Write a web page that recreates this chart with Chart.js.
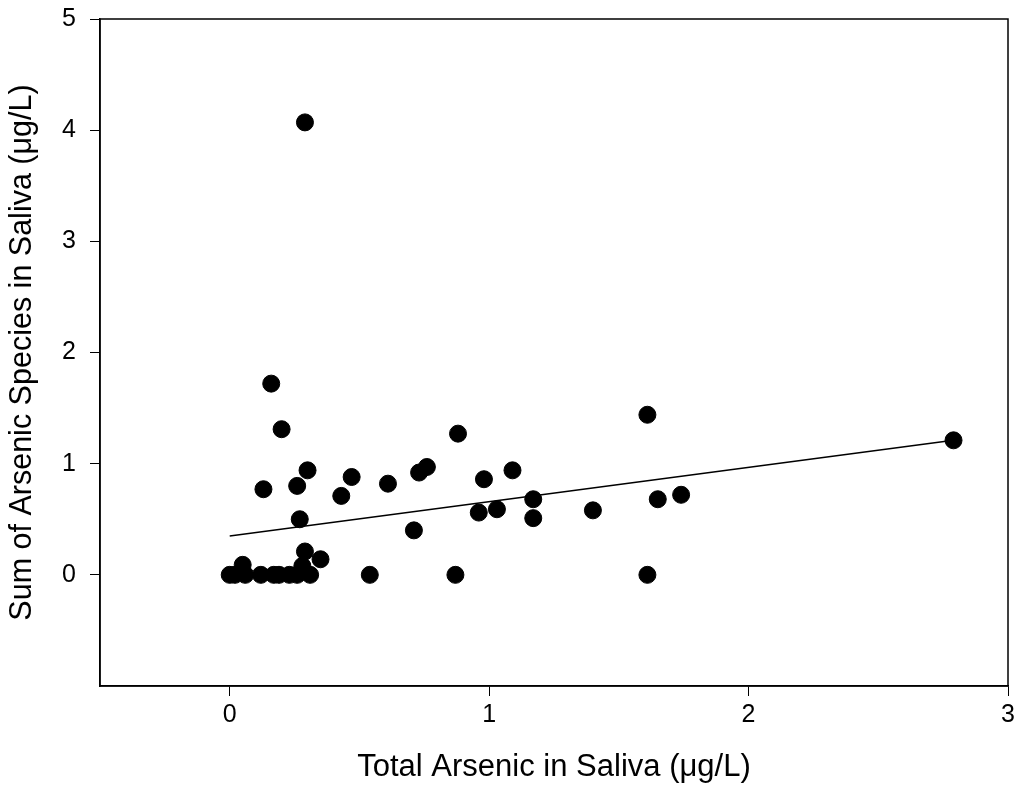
<!DOCTYPE html>
<html>
<head>
<meta charset="utf-8">
<script src="https://cdn.jsdelivr.net/npm/chart.js@4.4.1/dist/chart.umd.min.js"></script>
<style>
html,body{margin:0;padding:0;background:#fff;}
#wrap{width:1020px;height:791px;}
</style>
</head>
<body>
<div id="wrap"><canvas id="c" width="1020" height="791"></canvas></div>
<script>
// Data
const totalAs = [0.00,0.02,0.06,0.12,0.17,0.19,0.23,0.26,0.31,0.05,0.28,0.29,0.35,
  0.16,0.20,0.30,0.13,0.26,0.47,0.43,0.61,0.27,0.29,0.54,
  0.88,0.73,0.76,0.98,1.09,0.71,0.96,1.03,1.17,1.17,1.40,0.87,
  1.61,1.65,1.74,1.61,2.79];
const sumSpecies = [0,0,0,0,0,0,0,0,0,0.09,0.08,0.21,0.14,
  1.72,1.31,0.94,0.77,0.80,0.88,0.71,0.82,0.50,4.07,0,
  1.27,0.92,0.97,0.86,0.94,0.40,0.56,0.59,0.68,0.51,0.58,0,
  1.44,0.68,0.72,0,1.21];
const fitX = [0.00, 2.79];
const fitY = [0.35, 1.21];
const xTicks = [0,1,2,3];
const yTicks = [0,1,2,3,4,5];

const points = totalAs.map((x,i)=>({x:x,y:sumSpecies[i]}));
const fit = fitX.map((x,i)=>({x:x,y:fitY[i]}));

const boxPlugin = {
  id:'box',
  afterDatasetsDraw(chart){
    const {ctx, chartArea:a} = chart;
    ctx.save();
    ctx.strokeStyle='#000';
    ctx.lineWidth=1.5;
    ctx.strokeRect(a.left, a.top, a.right-a.left, a.bottom-a.top);
    ctx.restore();
  }
};

const FONT = 'Liberation Sans, Arial, sans-serif';

new Chart(document.getElementById('c'), {
  type:'scatter',
  data:{datasets:[
    {data:fit, type:'line', showLine:true, borderColor:'#000', borderWidth:1.5, pointRadius:0, fill:false, order:2},
    {data:points, backgroundColor:'#000', borderColor:'#000', pointRadius:8.5, pointHoverRadius:8.5, order:1}
  ]},
  options:{
    responsive:false, animation:false,
    layout:{padding:{top:19,right:12,left:0,bottom:0}},
    plugins:{legend:{display:false}, tooltip:{enabled:false}},
    scales:{
      x:{type:'linear', min:-0.5, max:3,
        afterBuildTicks(s){ s.ticks = xTicks.map(v=>({value:v})); },
        afterFit(s){ s.height = 105; s.paddingLeft = 0; s.paddingRight = 0; },
        grid:{drawOnChartArea:false, drawTicks:true, tickLength:10, color:'#000', lineWidth:1},
        border:{display:true, color:'#000', width:1.5},
        ticks:{color:'#000', font:{family:FONT, size:25}, padding:4},
        title:{display:true, text:'Total Arsenic in Saliva (μg/L)', color:'#000', font:{family:FONT, size:31}, padding:{top:0,bottom:5}}
      },
      y:{type:'linear', min:-1, max:5,
        afterBuildTicks(s){ s.ticks = yTicks.map(v=>({value:v})); },
        afterFit(s){ s.width = 100; s.paddingTop = 0; s.paddingBottom = 0; },
        grid:{drawOnChartArea:false, drawTicks:true, tickLength:10, color:'#000', lineWidth:1},
        border:{display:true, color:'#000', width:1.5},
        ticks:{color:'#000', font:{family:FONT, size:25}, padding:14},
        title:{display:true, text:'Sum of Arsenic Species in Saliva (μg/L)', color:'#000', font:{family:FONT, size:30.5}, padding:{top:4,bottom:0}}
      }
    }
  },
  plugins:[boxPlugin]
});
</script>
</body>
</html>
